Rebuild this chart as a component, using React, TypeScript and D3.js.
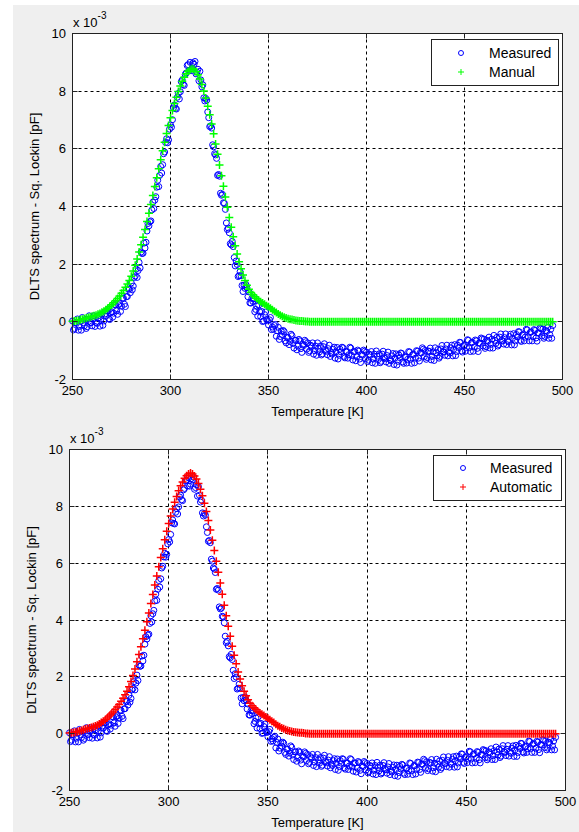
import React from 'react';
import * as d3 from 'd3';

const W = 579;
const H = 832;

// temperature axis of the scan: readings at whole kelvins and half kelvins
const tempsA = d3.range(250, 496);
const tempsB = d3.range(250.5, 495, 1);

// DLTS signal in units of 1e-3 pF (whole-K readings)
const measuredA = [
  0.03, -0.23, -0.05, -0.29, 0.02, 0.15, -0.14, -0.23, 0.09, -0.02,
  -0.14, 0.21, -0.02, 0.13, -0.15, 0.26, 0.03, 0.19, 0.38, 0.08,
  0.35, 0.30, 0.59, 0.26, 0.63, 0.54, 0.82, 0.53, 0.88, 1.14,
  1.35, 1.24, 1.59, 1.54, 2.06, 2.42, 2.38, 2.56, 3.15, 3.33,
  3.50, 4.15, 4.22, 4.67, 4.69, 5.39, 5.45, 5.89, 6.35, 6.31,
  6.83, 7.01, 7.52, 7.38, 7.92, 7.98, 8.39, 8.20, 8.63, 8.92,
  9.00, 8.78, 8.93, 8.60, 8.76, 8.69, 8.15, 7.77, 7.75, 7.28,
  6.77, 6.72, 6.07, 5.79, 5.08, 5.05, 4.39, 4.13, 3.90, 3.20,
  3.09, 2.67, 2.61, 1.94, 1.99, 1.60, 1.60, 1.05, 1.16, 1.18,
  1.04, 0.65, 0.71, 0.35, 0.55, 0.58, 0.18, 0.01, 0.25, 0.08,
  -0.11, 0.15, -0.18, -0.13, -0.50, -0.19, -0.51, -0.44, -0.34, -0.73,
  -0.55, -0.68, -0.48, -0.91, -0.64, -0.84, -0.66, -1.06, -0.82, -0.69,
  -0.73, -1.01, -0.86, -1.12, -0.84, -0.73, -1.04, -1.15, -0.86, -0.99,
  -1.14, -0.81, -1.07, -0.95, -1.26, -0.89, -1.16, -1.04, -0.90, -1.25,
  -1.03, -1.14, -0.91, -1.32, -1.03, -1.21, -1.02, -1.41, -1.16, -1.02,
  -1.05, -1.33, -1.16, -1.42, -1.12, -1.01, -1.31, -1.42, -1.12, -1.25,
  -1.39, -1.05, -1.31, -1.18, -1.48, -1.11, -1.37, -1.24, -1.10, -1.44,
  -1.21, -1.30, -1.05, -1.44, -1.12, -1.26, -1.02, -1.36, -1.08, -0.95,
  -0.99, -1.24, -1.03, -1.32, -1.04, -0.90, -1.18, -1.26, -0.94, -1.04,
  -1.16, -0.81, -1.04, -0.90, -1.18, -0.79, -1.03, -0.89, -0.72, -1.05,
  -0.81, -0.89, -0.64, -1.03, -0.71, -0.87, -0.66, -1.03, -0.75, -0.59,
  -0.60, -0.86, -0.67, -0.91, -0.60, -0.47, -0.75, -0.84, -0.53, -0.64,
  -0.77, -0.42, -0.65, -0.51, -0.80, -0.41, -0.66, -0.52, -0.35, -0.68,
  -0.44, -0.53, -0.28, -0.66, -0.35, -0.51, -0.30, -0.67, -0.40, -0.24,
  -0.25, -0.51, -0.33, -0.57, -0.26, -0.13,
];

// half-K readings
const measuredB = [
  -0.28, -0.02, 0.10, -0.16, -0.29, -0.03, 0.08, -0.17, 0.21, -0.03,
  0.09, -0.16, -0.05, 0.22, 0.10, -0.12, 0.27, 0.38, 0.11, 0.32,
  0.16, 0.60, 0.38, 0.59, 0.36, 0.82, 0.61, 0.87, 1.13, 1.01,
  1.11, 1.54, 1.83, 1.78, 1.87, 2.37, 2.73, 2.76, 3.41, 3.47,
  3.88, 3.93, 4.34, 4.91, 5.08, 5.16, 5.83, 6.22, 6.21, 6.68,
  6.75, 7.42, 7.40, 7.79, 7.73, 8.33, 8.23, 8.58, 8.89, 8.72,
  8.71, 8.98, 9.03, 8.66, 8.36, 8.39, 8.22, 7.66, 7.69, 7.08,
  6.80, 6.14, 5.83, 5.67, 5.11, 4.46, 4.42, 4.11, 3.43, 3.25,
  2.71, 2.79, 2.23, 2.11, 1.57, 1.74, 1.26, 1.27, 1.29, 0.87,
  0.66, 0.81, 0.80, 0.43, 0.20, 0.35, 0.36, 0.03, 0.34, 0.04,
  0.07, -0.27, -0.26, -0.09, -0.31, -0.61, -0.32, -0.30, -0.66, -0.54,
  -0.79, -0.43, -0.75, -0.64, -0.97, -0.61, -0.93, -0.78, -0.64, -0.95,
  -1.06, -0.81, -0.73, -1.00, -1.16, -0.92, -0.84, -1.11, -0.76, -1.02,
  -0.93, -1.20, -1.12, -0.88, -1.04, -1.29, -0.95, -0.88, -1.20, -1.04,
  -1.26, -0.88, -1.17, -1.04, -1.35, -0.98, -1.29, -1.13, -0.98, -1.28,
  -1.38, -1.12, -1.03, -1.29, -1.44, -1.19, -1.11, -1.37, -1.02, -1.27,
  -1.17, -1.44, -1.35, -1.10, -1.26, -1.50, -1.15, -1.08, -1.39, -1.22,
  -1.43, -1.03, -1.30, -1.14, -1.42, -1.00, -1.26, -1.06, -0.90, -1.21,
  -1.30, -1.01, -0.91, -1.20, -1.34, -1.07, -0.96, -1.20, -0.82, -1.05,
  -0.94, -1.18, -1.08, -0.81, -0.95, -1.17, -0.81, -0.71, -1.01, -0.83,
  -1.02, -0.62, -0.89, -0.73, -1.02, -0.63, -0.92, -0.73, -0.56, -0.84,
  -0.92, -0.64, -0.53, -0.78, -0.91, -0.64, -0.54, -0.79, -0.42, -0.66,
  -0.55, -0.79, -0.69, -0.43, -0.57, -0.80, -0.44, -0.34, -0.64, -0.46,
  -0.66, -0.26, -0.52, -0.37, -0.66, -0.27, -0.56, -0.38, -0.21, -0.49,
  -0.57, -0.30, -0.19, -0.44, -0.57,
];

const manualFit = [
  0.02, 0.03, 0.04, 0.05, 0.07, 0.09, 0.11, 0.13, 0.15, 0.17,
  0.19, 0.21, 0.23, 0.26, 0.29, 0.33, 0.37, 0.42, 0.47, 0.53,
  0.59, 0.66, 0.73, 0.81, 0.90, 0.99, 1.09, 1.20, 1.31, 1.43,
  1.58, 1.76, 1.96, 2.18, 2.42, 2.67, 2.93, 3.20, 3.48, 3.77,
  4.07, 4.38, 4.69, 5.00, 5.31, 5.62, 5.93, 6.23, 6.53, 6.81,
  7.08, 7.33, 7.57, 7.79, 7.99, 8.18, 8.34, 8.48, 8.60, 8.69,
  8.75, 8.78, 8.75, 8.68, 8.57, 8.42, 8.23, 8.01, 7.76, 7.48,
  7.18, 6.86, 6.52, 6.17, 5.81, 5.44, 5.07, 4.70, 4.33, 3.97,
  3.62, 3.28, 2.95, 2.64, 2.35, 2.08, 1.84, 1.62, 1.43, 1.27,
  1.13, 1.02, 0.94, 0.87, 0.81, 0.75, 0.70, 0.65, 0.61, 0.56,
  0.52, 0.47, 0.42, 0.37, 0.32, 0.27, 0.23, 0.19, 0.16, 0.13,
  0.11, 0.09, 0.08, 0.06, 0.05, 0.04, 0.03, 0.03, 0.02, 0.01,
  0.01, 0, 0, 0, 0, 0, 0, 0, 0, 0,
  0, 0, 0, 0, 0, 0, 0, 0, 0, 0,
  0, 0, 0, 0, 0, 0, 0, 0, 0, 0,
  0, 0, 0, 0, 0, 0, 0, 0, 0, 0,
  0, 0, 0, 0, 0, 0, 0, 0, 0, 0,
  0, 0, 0, 0, 0, 0, 0, 0, 0, 0,
  0, 0, 0, 0, 0, 0, 0, 0, 0, 0,
  0, 0, 0, 0, 0, 0, 0, 0, 0, 0,
  0, 0, 0, 0, 0, 0, 0, 0, 0, 0,
  0, 0, 0, 0, 0, 0, 0, 0, 0, 0,
  0, 0, 0, 0, 0, 0, 0, 0, 0, 0,
  0, 0, 0, 0, 0, 0, 0, 0, 0, 0,
  0, 0, 0, 0, 0, 0,
];

const autoFit = [
  0.02, 0.03, 0.04, 0.05, 0.07, 0.09, 0.11, 0.14, 0.16, 0.18,
  0.20, 0.22, 0.24, 0.27, 0.30, 0.34, 0.39, 0.44, 0.49, 0.55,
  0.62, 0.69, 0.76, 0.85, 0.94, 1.03, 1.14, 1.25, 1.37, 1.49,
  1.65, 1.84, 2.05, 2.28, 2.53, 2.79, 3.06, 3.34, 3.64, 3.94,
  4.25, 4.58, 4.90, 5.23, 5.55, 5.87, 6.20, 6.51, 6.82, 7.12,
  7.40, 7.66, 7.91, 8.14, 8.35, 8.55, 8.72, 8.86, 8.99, 9.08,
  9.14, 9.17, 9.14, 9.07, 8.96, 8.80, 8.60, 8.37, 8.11, 7.82,
  7.50, 7.17, 6.81, 6.45, 6.07, 5.68, 5.30, 4.91, 4.52, 4.15,
  3.78, 3.43, 3.08, 2.76, 2.46, 2.17, 1.92, 1.69, 1.49, 1.33,
  1.19, 1.07, 0.98, 0.91, 0.85, 0.78, 0.73, 0.68, 0.64, 0.59,
  0.54, 0.49, 0.44, 0.39, 0.33, 0.28, 0.24, 0.20, 0.17, 0.14,
  0.11, 0.09, 0.08, 0.06, 0.05, 0.04, 0.03, 0.03, 0.02, 0.01,
  0.01, 0, 0, 0, 0, 0, 0, 0, 0, 0,
  0, 0, 0, 0, 0, 0, 0, 0, 0, 0,
  0, 0, 0, 0, 0, 0, 0, 0, 0, 0,
  0, 0, 0, 0, 0, 0, 0, 0, 0, 0,
  0, 0, 0, 0, 0, 0, 0, 0, 0, 0,
  0, 0, 0, 0, 0, 0, 0, 0, 0, 0,
  0, 0, 0, 0, 0, 0, 0, 0, 0, 0,
  0, 0, 0, 0, 0, 0, 0, 0, 0, 0,
  0, 0, 0, 0, 0, 0, 0, 0, 0, 0,
  0, 0, 0, 0, 0, 0, 0, 0, 0, 0,
  0, 0, 0, 0, 0, 0, 0, 0, 0, 0,
  0, 0, 0, 0, 0, 0, 0, 0, 0, 0,
  0, 0, 0, 0, 0, 0,
];

const xTicks = [250, 300, 350, 400, 450, 500];
const yTicks = [-2, 0, 2, 4, 6, 8, 10];

const FONT = '"Liberation Sans", Arial, Helvetica, sans-serif';

type Box = { left: number; right: number; top: number; bottom: number };
type Legend = { x: number; y: number; w: number; h: number; mx: number; tx: number; y1: number; y2: number };

function Panel({ box, fit, fitColor, fitName, legend }: { box: Box; fit: number[]; fitColor: string; fitName: string; legend: Legend }) {
  const x = d3.scaleLinear().domain([250, 500]).range([box.left, box.right]);
  const y = d3.scaleLinear().domain([-2, 10]).range([box.bottom, box.top]);
  const px = (v: number) => Math.floor(x(v)) + 0.5;
  const py = (v: number) => Math.floor(y(v)) + 0.5;
  const tl = 5;
  const ps = 4; // half size of the "+" marker

  const plusPath = tempsA
    .map((t, i) => {
      const cx = x(t), cy = y(fit[i]);
      return `M${cx - ps},${cy}H${cx + ps}M${cx},${cy - ps}V${cy + ps}`;
    })
    .join('');

  const L = px(250), R = px(500), T = py(10), B = py(-2);

  return (
    <g fontFamily={FONT}>
      <rect x={L} y={T} width={R - L} height={B - T} fill="#fff" />
      {/* grid */}
      <g stroke="#000" strokeWidth={1} strokeDasharray="3,3">
        {xTicks.slice(1, -1).map((t) => (
          <line key={'gx' + t} x1={px(t)} x2={px(t)} y1={T} y2={B} />
        ))}
        {yTicks.slice(1, -1).map((t) => (
          <line key={'gy' + t} x1={L} x2={R} y1={py(t)} y2={py(t)} />
        ))}
      </g>
      {/* measured */}
      <g fill="none" stroke="#0000ff" strokeWidth={1}>
        {tempsA.map((t, i) => (
          <circle key={'a' + t} cx={x(t)} cy={y(measuredA[i])} r={3} />
        ))}
        {tempsB.map((t, i) => (
          <circle key={'b' + t} cx={x(t)} cy={y(measuredB[i])} r={3} />
        ))}
      </g>
      {/* fit */}
      <path d={plusPath} stroke={fitColor} strokeWidth={1.5} fill="none" />
      {/* box and ticks */}
      <rect x={L} y={T} width={R - L} height={B - T} fill="none" stroke="#222" strokeWidth={1} />
      <g stroke="#222" strokeWidth={1}>
        {xTicks.map((t) => (
          <g key={'tx' + t}>
            <line x1={px(t)} x2={px(t)} y1={B} y2={B - tl} />
            <line x1={px(t)} x2={px(t)} y1={T} y2={T + tl} />
          </g>
        ))}
        {yTicks.map((t) => (
          <g key={'ty' + t}>
            <line x1={L} x2={L + tl} y1={py(t)} y2={py(t)} />
            <line x1={R} x2={R - tl} y1={py(t)} y2={py(t)} />
          </g>
        ))}
      </g>
      {/* tick labels */}
      <g fontSize={13} fill="#000">
        {xTicks.map((t) => (
          <text key={'lx' + t} x={x(t)} y={B + 11} textAnchor="middle" dominantBaseline="central">
            {t}
          </text>
        ))}
        {yTicks.map((t) => (
          <text key={'ly' + t} x={L - 6.5} y={y(t)} textAnchor="end" dominantBaseline="central">
            {t}
          </text>
        ))}
      </g>
      <text x={L + 0.5} y={T - 7} fontSize={13} fill="#000">
        x 10
        <tspan dy={-8} fontSize={10}>-3</tspan>
      </text>
      <text x={(L + R) / 2} y={B + 32} fontSize={13} textAnchor="middle" dominantBaseline="central" fill="#000">
        Temperature [K]
      </text>
      <text
        transform={`translate(${L - 38},${(T + B) / 2}) rotate(-90)`}
        fontSize={13}
        textAnchor="middle"
        dominantBaseline="central"
        fill="#000"
      >
        DLTS spectrum - Sq. Lockin [pF]
      </text>
      {/* legend */}
      <rect x={legend.x} y={legend.y} width={legend.w} height={legend.h} fill="#fff" stroke="#222" strokeWidth={1} />
      <circle cx={legend.mx} cy={legend.y1} r={2.5} fill="none" stroke="#0000ff" strokeWidth={1} />
      <path
        d={`M${legend.mx - 3},${legend.y2}H${legend.mx + 3}M${legend.mx},${legend.y2 - 3}V${legend.y2 + 3}`}
        stroke={fitColor}
        strokeWidth={1}
      />
      <g fontSize={14} fill="#000" dominantBaseline="central">
        <text x={legend.tx} y={legend.y1}>Measured</text>
        <text x={legend.tx} y={legend.y2}>{fitName}</text>
      </g>
    </g>
  );
}

export default function App() {
  return (
    <svg width={W} height={H} style={{ position: 'absolute', left: 0, top: 0, background: '#fff' }}>
      <rect x={13} y={5} width={W - 13} height={H - 5} fill="#efefef" />
      <Panel
        box={{ left: 72.5, right: 562.5, top: 33.5, bottom: 379.5 }}
        fit={manualFit}
        fitColor="#00ff00"
        fitName="Manual"
        legend={{ x: 431.5, y: 39.5, w: 127, h: 46, mx: 461, tx: 489, y1: 53, y2: 72 }}
      />
      <Panel
        box={{ left: 69.5, right: 565.5, top: 449.5, bottom: 790.5 }}
        fit={autoFit}
        fitColor="#ff0000"
        fitName="Automatic"
        legend={{ x: 433.5, y: 455.5, w: 128, h: 45, mx: 463, tx: 490, y1: 468, y2: 487 }}
      />
    </svg>
  );
}
